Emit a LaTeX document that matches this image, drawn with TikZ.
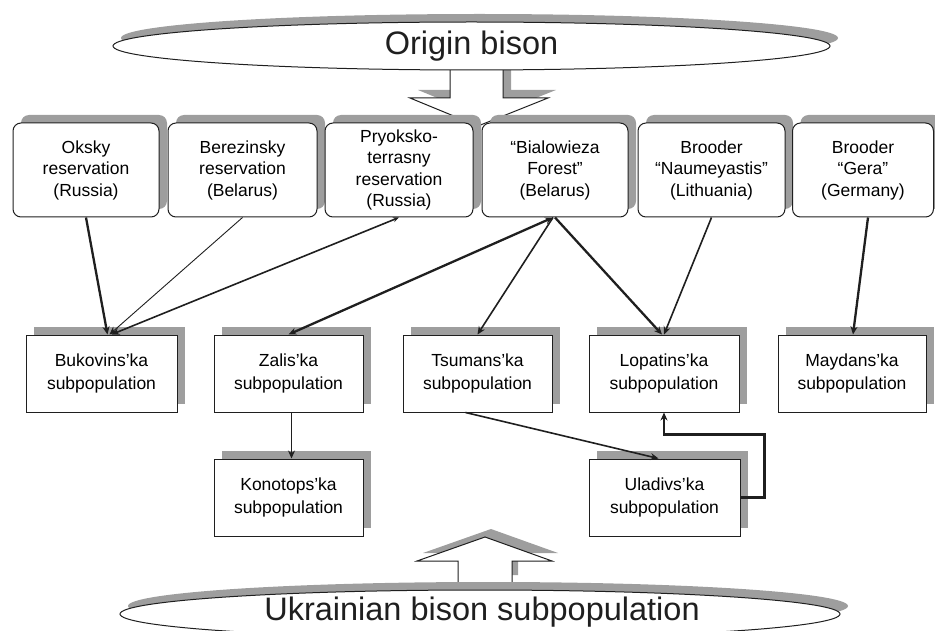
\documentclass[tikz,border=0pt]{standalone}
\usepackage{fontspec}
\setmainfont{Liberation Sans}
\usetikzlibrary{arrows.meta,shapes.geometric,shadows,calc}
\definecolor{shade}{gray}{0.62}
\definecolor{ink}{gray}{0.12}
\tikzset{
  shadowed/.style={copy shadow={shadow xshift=8pt, shadow yshift=8pt, fill=shade, draw=none}},
  topbox/.style={shadowed, draw=ink, line width=1pt, fill=white, rounded corners=8pt,
    minimum height=94pt, inner sep=0pt, align=center, font=\fontsize{17.5}{21.5}\selectfont},
  subbox/.style={shadowed, draw=ink, line width=1pt, fill=white, minimum width=150pt,
    minimum height=77pt, inner sep=0pt, align=center, font=\fontsize{17.5}{23}\selectfont},
  bigell/.style={shadowed, ellipse, draw=ink, line width=1pt, fill=white, inner sep=0pt},
  bigtext/.style={font=\fontsize{32.5}{36}\selectfont, text=ink},
  blockarrow/.style={fill=white, draw=ink, line width=1pt},
  blockshadow/.style={fill=shade, draw=none},
  tip/.style={-{Stealth[length=8pt,width=7pt]}},
  thickc/.style={draw=ink, line width=2.3pt, tip},
  medc/.style={draw=ink, line width=1.6pt, tip},
  thinc/.style={draw=ink, line width=0.9pt, tip}
}
\begin{document}
\begin{tikzpicture}[x=1pt,y=-1pt]
\useasboundingbox (0,0) rectangle (935,631);
% block arrows (drawn first, ellipses cover their open ends)
\fill[blockshadow, shift={(8,-8)}] (450,76) -- (450,98) -- (410,98) -- (478,126) -- (548,98) -- (503,98) -- (503,76) -- cycle;
\fill[white] (450,66) -- (450,98) -- (410,98) -- (478,126) -- (548,98) -- (503,98) -- (503,66) -- cycle;
\draw[ink, line width=1pt] (450,66) -- (450,98) -- (410,98) -- (478,126) -- (548,98) -- (503,98) -- (503,66);
\fill[blockshadow, shift={(6,-8)}] (458,583) -- (458,561) -- (417,561) -- (485,537) -- (552,561) -- (512,561) -- (512,583) -- cycle;
\fill[white] (458,594) -- (458,561) -- (417,561) -- (485,537) -- (552,561) -- (512,561) -- (512,594) -- cycle;
\draw[ink, line width=1pt] (458,594) -- (458,561) -- (417,561) -- (485,537) -- (552,561) -- (512,561) -- (512,594);
% ellipses
\node[bigell, minimum width=717pt, minimum height=48pt] (origin) at (471.5,46) {};
\node[bigtext] (origintext) at (origin.center) {Origin bison};
\node[bigell, minimum width=720pt, minimum height=48pt] (ukr) at (480,614) {};
\node[bigtext] (ukrtext) at (482,612) {Ukrainian bison subpopulation};
% top boxes
\node[topbox, minimum width=146pt] (oksky) at (86,170) {Oksky\\reservation\\(Russia)};
\node[topbox, minimum width=149pt] (berez) at (242.5,170) {Berezinsky\\reservation\\(Belarus)};
\node[topbox, minimum width=148pt] (pryok) at (399,170) {Pryoksko-\\terrasny\\reservation\\(Russia)};
\node[topbox, minimum width=146pt] (bial) at (555,170) {“Bialowieza\\Forest”\\(Belarus)};
\node[topbox, minimum width=147pt] (naum) at (711.5,170) {Brooder\\“Naumeyastis”\\(Lithuania)};
\node[topbox, minimum width=141pt] (gera) at (863,170) {Brooder\\“Gera”\\(Germany)};
% subpopulation boxes
\node[subbox, minimum width=151pt] (buk) at (101.5,373.5) {Bukovins’ka\\subpopulation};
\node[subbox, minimum width=149pt] (zal) at (288.5,373.5) {Zalis’ka\\subpopulation};
\node[subbox, minimum width=149pt] (tsu) at (477.5,373.5) {Tsumans’ka\\subpopulation};
\node[subbox, minimum width=150pt] (lop) at (664,373.5) {Lopatins’ka\\subpopulation};
\node[subbox, minimum width=148pt] (may) at (852,373.5) {Maydans’ka\\subpopulation};
\node[subbox, minimum width=149pt] (kon) at (288.5,497.5) {Konotops’ka\\subpopulation};
\node[subbox, minimum width=151pt] (ula) at (664.5,497.5) {Uladivs’ka\\subpopulation};
% connectors
\draw[thickc] (oksky.south) -- ([xshift=6pt]buk.north);
\draw[thinc] (berez.south) -- ([xshift=8pt]buk.north);
\draw[medc, {Stealth[length=6pt,width=5pt]}-{Stealth[length=8pt,width=7pt]}] (pryok.south) -- ([xshift=10pt]buk.north);
\draw[thickc, {Stealth[length=8pt,width=7pt]}-{Stealth[length=8pt,width=7pt]}] ([xshift=-2pt]bial.south) -- (zal.north);
\draw[medc] ([xshift=-2pt]bial.south) -- (tsu.north);
\draw[thickc] (bial.south) -- ([xshift=-2pt]lop.north);
\draw[medc] (naum.south) -- (lop.north);
\draw[thickc] ([xshift=5pt]gera.south) -- ([xshift=1pt]may.north);
\draw[thinc] ([xshift=3pt]zal.south) -- ([xshift=3pt]kon.north);
\draw[medc] ([xshift=-12pt]tsu.south) -- ([xshift=-6pt]ula.north);
\draw[thickc] (ula.east) -- ++(24,0) |- ($(lop.south)+(0,22)$) -- (lop.south);
\end{tikzpicture}
\end{document}
